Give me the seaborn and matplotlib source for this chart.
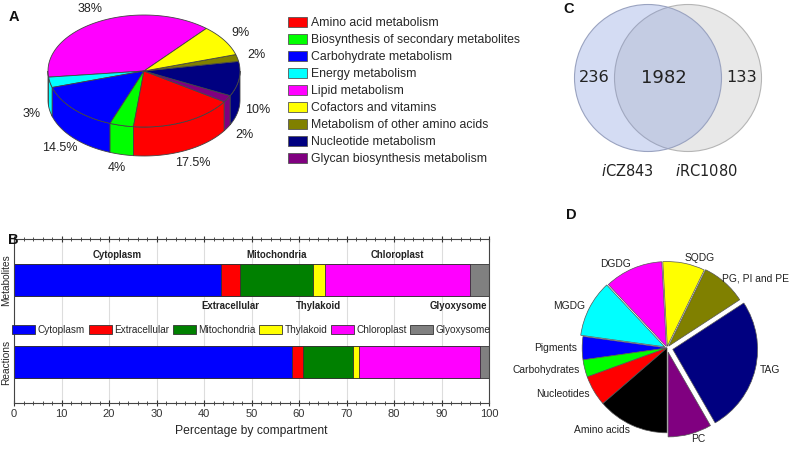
import numpy as np
import pandas as pd
import matplotlib
matplotlib.use("Agg")
import matplotlib.pyplot as plt
from matplotlib.patches import Patch, Circle
import seaborn as sns

sns.set_style("white")
plt.rcParams['font.family'] = ['Liberation Sans', 'DejaVu Sans']

# Panel A - pathway classes (%)
path_names = ["Amino acid metabolism", "Biosynthesis of secondary metabolites",
              "Carbohydrate metabolism", "Energy metabolism", "Lipid metabolism",
              "Cofactors and vitamins", "Metabolism of other amino acids",
              "Nucleotide metabolism", "Glycan biosynthesis metabolism"]
path_pct = [17.5, 4, 14.5, 3, 38, 9, 2, 10, 2]
path_colors = ["#ff0000", "#00ff00", "#0000ff", "#00ffff", "#ff00ff",
               "#ffff00", "#808000", "#000080", "#800080"]
# order the slices go round the 3D pie (counter-clockwise)
pie_order = [4, 3, 2, 1, 0, 8, 7, 6, 5]

# Panel B - compartments (%)
compartments = ["Cytoplasm", "Extracellular", "Mitochondria", "Thylakoid", "Chloroplast", "Glyoxysome"]
comp_colors = ["#0000ff", "#ff0000", "#008000", "#ffff00", "#ff00ff", "#808080"]
metabolites_pct = [43.5, 4.0, 15.4, 2.5, 30.5, 4.1]
reactions_pct = [58.6, 2.2, 10.5, 1.4, 25.3, 2.0]

# Panel C - venn counts
venn_names = ["CZ843", "RC1080"]
venn_counts = [236, 1982, 133]

# Panel D - biomass composition
bio_names = ["PC", "TAG", "PG, PI and PE", "SQDG", "DGDG", "MGDG",
             "Pigments", "Carbohydrates", "Nucleotides", "Amino acids"]
bio_pct = [8.3, 25.8, 8.6, 8.0, 11.1, 10.8, 4.4, 3.3, 5.8, 13.6]
bio_colors = ["#800080", "#000080", "#808000", "#ffff00", "#ff00ff", "#00ffff",
              "#0000ff", "#00ff00", "#ff0000", "#000000"]
bio_explode = [0.05, 0.07, 0.03, 0.02, 0.02, 0.03, 0, 0, 0, 0]

W, H = 793, 450
fig = plt.figure(figsize=(W / 100, H / 100), dpi=100)


def px_box(x, y, w, h):
    return [x / W, 1 - (y + h) / H, w / W, h / H]


# ---------------- A: 3D pie ----------------
axA = fig.add_axes(px_box(0, 0, 280, 200))
axA.set_xlim(0, 280)
axA.set_ylim(200, 0)
axA.axis("off")
cx, cy, ra, rb, depth = 144, 71, 96, 56, 29
t = 49.5
for i in pie_order:
    span = path_pct[i] * 3.6
    t0, t1 = t, t + span
    # side wall (front half only)
    for k in (0, 1):
        lo, hi = max(t0, 180 + 360 * k), min(t1, 360 + 360 * k)
        if lo < hi:
            ts = np.radians(np.linspace(lo, hi, 40))
            xs = cx + ra * np.cos(ts)
            ys = cy - rb * np.sin(ts)
            axA.fill(np.r_[xs, xs[::-1]], np.r_[ys, ys[::-1] + depth],
                     color=path_colors[i], ec="#444444", lw=0.6, zorder=1)
    ts = np.radians(np.linspace(t0, t1, 60))
    axA.fill(np.r_[cx, cx + ra * np.cos(ts)], np.r_[cy, cy - rb * np.sin(ts)],
             color=path_colors[i], ec="#444444", lw=0.6, zorder=2)
    m = np.radians(t0 + span / 2)
    lx = cx + 1.2 * ra * np.cos(m)
    ly = cy - 1.25 * rb * np.sin(m) + (depth if np.sin(m) < 0 else 0)
    axA.text(lx, ly, f"{path_pct[i]:g}%", ha="center", va="center", fontsize=9, color="#222222")
    t = t1

handlesA = [Patch(facecolor=c, edgecolor="#555555", lw=0.6) for c in path_colors]
fig.legend(handlesA, path_names, loc="upper left", bbox_to_anchor=(288 / W, 1 - 17 / H),
           frameon=False, fontsize=8.8, handlelength=1.55, handleheight=0.85,
           handletextpad=0.3, labelspacing=0.4, borderaxespad=0, borderpad=0)

# ---------------- B: stacked bars ----------------
axB = fig.add_axes(px_box(14, 239, 475, 164))
dfB = pd.DataFrame({
    "type": ["Metabolites"] * 6 + ["Reactions"] * 6,
    "compartment": compartments * 2,
    "value": metabolites_pct + reactions_pct,
})
dfB["end"] = dfB.groupby("type")["value"].cumsum()
dfB["start"] = dfB["end"] - dfB["value"]
for comp, col in reversed(list(zip(compartments, comp_colors))):
    sns.barplot(data=dfB[dfB.compartment == comp], x="end", y="type", orient="h",
                order=["Metabolites", "Reactions"], color=col, saturation=1,
                width=0.4, edgecolor="#333333", linewidth=0.6, errorbar=None, ax=axB)
axB.set_xlim(0, 100)
axB.set_ylim(1.5, -0.5)
axB.set_xticks(range(0, 101, 10))
axB.set_xticks(range(0, 101, 2), minor=True)
axB.xaxis.grid(True, color="#dddddd", lw=0.8)
axB.set_axisbelow(True)
axB.tick_params(axis="x", which="both", direction="inout", top=True, bottom=True,
                labelsize=8, colors="#333333", pad=2)
axB.tick_params(axis="x", which="major", length=5)
axB.tick_params(axis="x", which="minor", length=3)
axB.set_yticks([0, 1])
axB.set_yticklabels(["Metabolites", "Reactions"], rotation=90, va="center", fontsize=7.3)
axB.set_yticks([0.5], minor=True)
axB.tick_params(axis="y", which="major", length=0, pad=2)
axB.tick_params(axis="y", which="minor", length=4, direction="inout")
axB.set_xlabel("Percentage by compartment", fontsize=8.7, labelpad=4)
axB.set_ylabel("")
for s in axB.spines.values():
    s.set_color("#444444")
    s.set_linewidth(0.8)

met = dfB[dfB.type == "Metabolites"].reset_index(drop=True)
for j, row in met.iterrows():
    mid = (row["start"] + row["end"]) / 2
    ypos = -0.3 if j % 2 == 0 else 0.32
    if j == len(met) - 1:
        axB.text(99.6, ypos, row["compartment"], ha="right", va="center",
                 fontsize=6.9, fontweight="bold", color="#222222")
    else:
        axB.text(mid, ypos, row["compartment"], ha="center", va="center",
                 fontsize=6.9, fontweight="bold", color="#222222")

handlesB = [Patch(facecolor=c, edgecolor="#333333", lw=0.6) for c in comp_colors]
axB.legend(handlesB, compartments, loc="center", bbox_to_anchor=(0.5, 0.445), ncol=6,
           frameon=False, fontsize=7.2, handlelength=2.3, handleheight=0.9,
           handletextpad=0.25, columnspacing=0.35, borderaxespad=0, borderpad=0)

# ---------------- C: venn ----------------
axC = fig.add_axes(px_box(550, 0, 243, 200))
axC.set_xlim(550, 793)
axC.set_ylim(200, 0)
axC.axis("off")
lc, rc, vy, vr = 648, 688, 78, 73.5
axC.add_patch(Circle((rc, vy), vr, fc="#e8e8e8", ec="#b5b5b5", lw=0.8))
axC.add_patch(Circle((lc, vy), vr, fc=(0.45, 0.55, 0.85, 0.3), ec="#9aa3c0", lw=0.8))
axC.text((lc - vr + rc - vr) / 2, vy, str(venn_counts[0]), ha="center", va="center",
         fontsize=11.6, family="DejaVu Sans", color="#222222")
axC.text((rc - vr + lc + vr) / 2 - 4, vy, str(venn_counts[1]), ha="center", va="center",
         fontsize=13, family="DejaVu Sans", color="#222222")
axC.text((lc + vr + rc + vr) / 2, vy, str(venn_counts[2]), ha="center", va="center",
         fontsize=11.6, family="DejaVu Sans", color="#222222")
axC.text(lc - 21, 171, r"$\it{i}$" + venn_names[0], ha="center", va="center",
         fontsize=10.5, family="DejaVu Sans", color="#222222")
axC.text(rc + 18, 171, r"$\it{i}$" + venn_names[1], ha="center", va="center",
         fontsize=10.5, family="DejaVu Sans", color="#222222")

# ---------------- D: pie ----------------
axD = fig.add_axes(px_box(667 - 106, 348 - 106, 212, 212))
wedges, texts = axD.pie(bio_pct, labels=bio_names, colors=bio_colors, startangle=-90,
                        counterclock=True, explode=bio_explode, labeldistance=1.06,
                        wedgeprops=dict(edgecolor="#555555", linewidth=0.5),
                        textprops=dict(fontsize=7.4, color="#222222"))
# keep the long label inside the figure
px, py = texts[2].get_position()
texts[2].set_position((px - 0.07, py))
axD.set_xlim(-1.25, 1.25)
axD.set_ylim(-1.25, 1.25)
axD.set_aspect("equal")

# panel letters
for letter, x, y in [("A", 9, 17), ("B", 8, 240), ("C", 563, 9), ("D", 566, 215)]:
    fig.text(x / W, 1 - y / H, letter, ha="left", va="center", fontsize=10.5,
             fontweight="bold", color="#111111")

fig.savefig("out.png", dpi=100)
